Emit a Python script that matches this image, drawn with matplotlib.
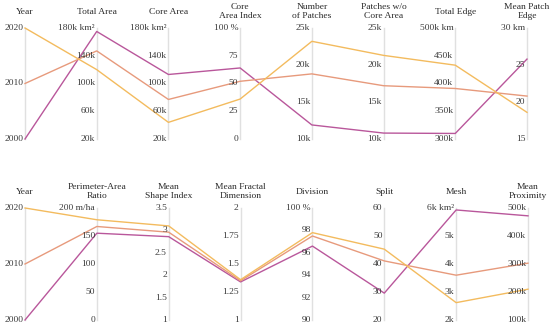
import matplotlib.pyplot as plt

plt.rcParams['font.family'] = ['Liberation Serif', 'DejaVu Serif']

years = [2000, 2010, 2020]
colors = ["#b9579b", "#e79a7c", "#f3bb5e"]

# top panel
top_titles = ["Year", "Total Area", "Core Area", "Core\nArea Index", "Number\nof Patches",
              "Patches w/o\nCore Area", "Total Edge", "Mean Patch\nEdge"]
top_ranges = [(2000, 2020), (20, 180), (20, 180), (0, 100), (10, 25), (10, 25), (300, 500), (15, 30)]
top_ticks = [
    ["2000", "2010", "2020"],
    ["20k", "60k", "100k", "140k", "180k km²"],
    ["20k", "60k", "100k", "140k", "180k km²"],
    ["0", "25", "50", "75", "100 %"],
    ["10k", "15k", "20k", "25k"],
    ["10k", "15k", "20k", "25k"],
    ["300k", "350k", "400k", "450k", "500k km"],
    ["15", "20", "25", "30 km"],
]
total_area = [175, 147, 120]
core_area = [113, 77, 44]
core_area_index = [64, 52, 36]
num_patches = [11.9, 18.8, 23.2]
patches_no_core = [10.8, 17.2, 21.3]
total_edge = [310, 391, 433]
mean_patch_edge = [25.8, 20.8, 18.6]
top_data = [years, total_area, core_area, core_area_index, num_patches,
            patches_no_core, total_edge, mean_patch_edge]

# bottom panel
bot_titles = ["Year", "Perimeter-Area\nRatio", "Mean\nShape Index", "Mean Fractal\nDimension",
              "Division", "Split", "Mesh", "Mean\nProximity"]
bot_ranges = [(2000, 2020), (0, 200), (1, 3.5), (1, 2), (90, 100), (20, 60), (2, 6), (100, 500)]
bot_ticks = [
    ["2000", "2010", "2020"],
    ["0", "50", "100", "150", "200 m/ha"],
    ["1", "1.5", "2", "2.5", "3", "3.5"],
    ["1", "1.25", "1.5", "1.75", "2"],
    ["90", "92", "94", "96", "98", "100 %"],
    ["20", "30", "40", "50", "60"],
    ["2k", "3k", "4k", "5k", "6k km²"],
    ["100k", "200k", "300k", "400k", "500k"],
]
perimeter_area = [155, 167, 179]
mean_shape = [2.86, 2.96, 3.10]
mean_fractal = [1.34, 1.35, 1.36]
division = [96.6, 97.5, 97.8]
split = [29.6, 41.1, 45.3]
mesh = [5.93, 3.6, 2.62]
mean_proximity = [472, 303, 210]
bot_data = [years, perimeter_area, mean_shape, mean_fractal, division,
            split, mesh, mean_proximity]


def draw_panel(ax, titles, ranges, ticks, data):
    n = len(titles)
    ax.set_xlim(0, n - 1)
    ax.set_ylim(0, 1)
    ax.axis("off")
    for i in range(n):
        ax.plot([i, i], [0, 1], color="#e0e0e0", lw=1, zorder=1, clip_on=False)
        k = len(ticks[i])
        for j, lab in enumerate(ticks[i]):
            y = j / (k - 1)
            ax.text(i - 0.025, y, lab, ha="right", va="center", fontsize=6.8,
                    color="#3a3a3a", zorder=3)
        ax.text(i, 1.145, titles[i], ha="center", va="center", fontsize=6.8,
                color="#2a2a2a", linespacing=1.15, clip_on=False)
    for s in range(len(years)):
        ys = [(data[i][s] - ranges[i][0]) / (ranges[i][1] - ranges[i][0]) for i in range(n)]
        ax.plot(range(n), ys, color=colors[s], lw=1.0, zorder=2, clip_on=False)


fig = plt.figure(figsize=(5.5, 3.29), dpi=100)
ax1 = fig.add_axes([25 / 550, 1 - 139 / 329, 502 / 550, 111 / 329])
ax2 = fig.add_axes([25 / 550, 1 - 320 / 329, 503 / 550, 112 / 329])
draw_panel(ax1, top_titles, top_ranges, top_ticks, top_data)
draw_panel(ax2, bot_titles, bot_ranges, bot_ticks, bot_data)

fig.savefig("out.png", dpi=100)
